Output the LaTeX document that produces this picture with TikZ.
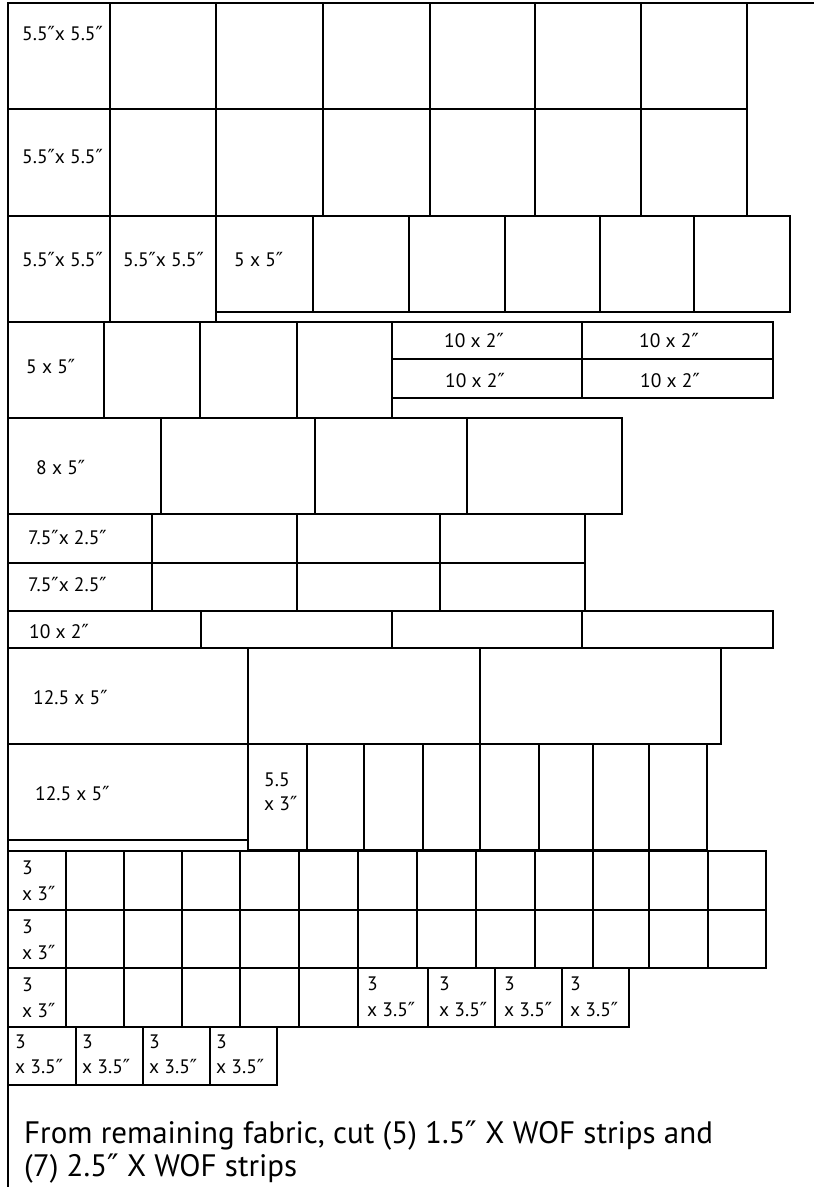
\documentclass[tikz,border=0pt]{standalone}
\usepackage{fontspec}
\setmainfont{PT Sans}
\newfontfamily\primefont{DejaVu Sans}
\newcommand\inch{\iffontchar\font"2033 \char"2033\relax\else{\primefont\char"2033}\fi}
\tikzset{
	cut/.style={line width=2.5pt, line join=miter},
	lbl/.style={anchor=base west, inner sep=0pt, font=\fontsize{19.5}{22}\selectfont},
	note/.style={anchor=base west, inner sep=0pt, font=\fontsize{31}{36}\selectfont}
}
\begin{document}
\begin{tikzpicture}[x=1pt, y=-1pt]
		\useasboundingbox (0,0) rectangle (814,1187);
		\fill[white] (0,0) rectangle (814,1187);
		\draw[cut] (8,3) -- (814,3);
		\draw[cut] (8,3) -- (8,1187);
		
		\foreach \y/\yy in {3/109,109/216}
			\foreach \a/\b in {8/110,110/216,216/323,323/430,430/535,535/641,641/747}
				\draw[cut] (\a,\y) rectangle (\b,\yy);
		\draw[cut] (8,216) rectangle (110,322);
		\draw[cut] (110,216) rectangle (216,322);
		\foreach \a/\b in {216/313,313/409,409/505,505/600,600/694,694/790}
			\draw[cut] (\a,216) rectangle (\b,312);
		\foreach \a/\b in {8/104,104/200,200/297,297/392}
			\draw[cut] (\a,322) rectangle (\b,418);
		\foreach \a/\b in {392/582,582/773} {
			\draw[cut] (\a,322) rectangle (\b,359);
			\draw[cut] (\a,359) rectangle (\b,398);
		}
		\foreach \a/\b in {8/161,161/315,315/467,467/622}
			\draw[cut] (\a,418) rectangle (\b,514);
		\foreach \y/\yy in {514/563,563/611}
			\foreach \a/\b in {8/152,152/297,297/440,440/585}
				\draw[cut] (\a,\y) rectangle (\b,\yy);
		\foreach \a/\b in {8/201,201/392,392/582,582/773}
			\draw[cut] (\a,611) rectangle (\b,648);
		\foreach \a/\b in {8/248,248/480,480/721}
			\draw[cut] (\a,648) rectangle (\b,744);
		\draw[cut] (8,744) rectangle (248,840);
		\foreach \a/\b in {248/307,307/364,364/423,423/480,480/539,539/593,593/649,649/707}
			\draw[cut] (\a,744) rectangle (\b,850);
		\foreach \y/\yy in {851/910,910/968}
			\foreach \a/\b in {8/66,66/124,124/182,182/240,240/299,299/358,358/417,417/476,476/535,535/593,593/649,649/708,708/766}
				\draw[cut] (\a,\y) rectangle (\b,\yy);
		\foreach \a/\b in {8/66,66/124,124/182,182/240,240/299,299/358}
			\draw[cut] (\a,968) rectangle (\b,1027);
		\foreach \a/\b in {358/428,428/495,495/562,562/629}
			\draw[cut] (\a,968) rectangle (\b,1027);
		\foreach \a/\b in {8/76,76/143,143/210,210/277}
			\draw[cut] (\a,1027) rectangle (\b,1085);
		
		\node[lbl] (sq1) at (22,40) {5.5\inch x 5.5\inch};
		\node[lbl] (sq2) at (22,163) {5.5\inch x 5.5\inch};
		\node[lbl] (sq3) at (22,266) {5.5\inch x 5.5\inch};
		\node[lbl] (sq4) at (123,266) {5.5\inch x 5.5\inch};
		\node[lbl] (fv1) at (234,266) {5 x 5\inch};
		\node[lbl] (fv2) at (26,373) {5 x 5\inch};
		\node[lbl] (st1) at (444,347) {10 x 2\inch};
		\node[lbl] (st2) at (639,347) {10 x 2\inch};
		\node[lbl] (st3) at (445,387) {10 x 2\inch};
		\node[lbl] (st4) at (640,387) {10 x 2\inch};
		\node[lbl] (ei1) at (36,474) {8 x 5\inch};
		\node[lbl] (sv1) at (28,544) {7.5\inch x 2.5\inch};
		\node[lbl] (sv2) at (28,591) {7.5\inch x 2.5\inch};
		\node[lbl] (st5) at (29,638) {10 x 2\inch};
		\node[lbl] (tw1) at (33,704) {12.5 x 5\inch};
		\node[lbl] (tw2) at (35,800) {12.5 x 5\inch};
		\node[lbl] (ff1) at (264,786) {5.5};
		\node[lbl] (ff2) at (264,810) {x 3\inch};
		\foreach \y [count=\i] in {851,910,968} {
			\node[lbl] (th\i) at (22,\y+23) {3};
			\node[lbl] (tx\i) at (22,\y+49) {x 3\inch};
		}
		\foreach \x [count=\i] in {367,439,504,570} {
			\node[lbl] (rh\i) at (\x,990) {3};
			\node[lbl] (rx\i) at (\x,1016) {x 3.5\inch};
		}
		\foreach \x [count=\i] in {15,82,149,216} {
			\node[lbl] (bh\i) at (\x,1048) {3};
			\node[lbl] (bx\i) at (\x,1073) {x 3.5\inch};
		}
		\node[note] (rem1) at (24,1143) {From remaining fabric, cut (5) 1.5\inch{} X WOF strips and};
		\node[note] (rem2) at (24,1176) {(7) 2.5\inch{} X WOF strips};
	\end{tikzpicture}
\end{document}
